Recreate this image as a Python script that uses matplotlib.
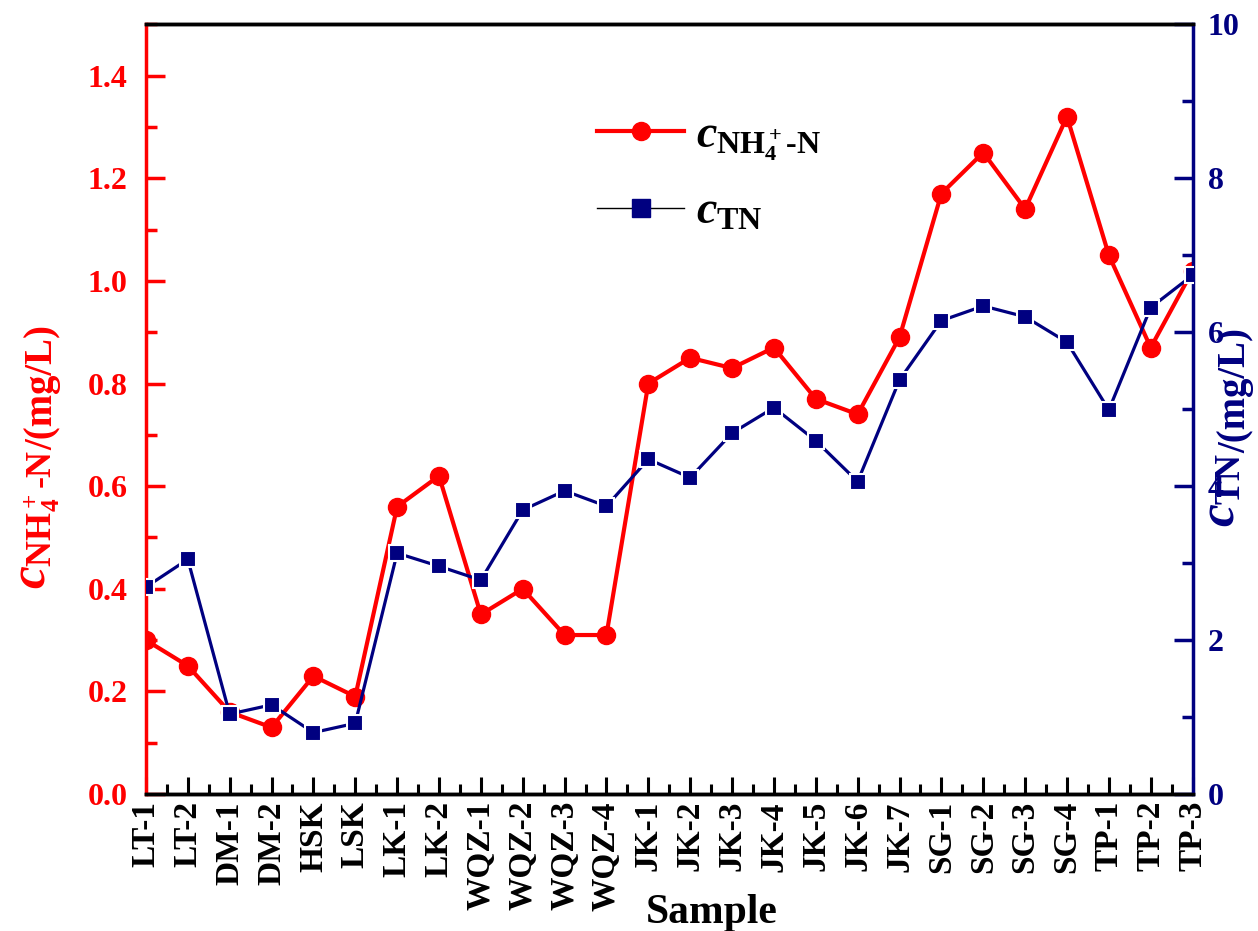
import matplotlib
matplotlib.use("Agg")
import matplotlib.pyplot as plt
from matplotlib.lines import Line2D
from matplotlib.ticker import MultipleLocator, FormatStrFormatter

plt.rcParams['font.family'] = ['Liberation Serif', 'DejaVu Serif']
plt.rcParams['font.weight'] = 'bold'
plt.rcParams['mathtext.fontset'] = 'custom'
plt.rcParams['mathtext.rm'] = 'Liberation Serif:bold'
plt.rcParams['mathtext.bf'] = 'Liberation Serif:bold'
plt.rcParams['mathtext.it'] = 'Liberation Serif:italic'

# sample sites
samples = ['LT-1', 'LT-2', 'DM-1', 'DM-2', 'HSK', 'LSK', 'LK-1', 'LK-2',
           'WQZ-1', 'WQZ-2', 'WQZ-3', 'WQZ-4', 'JK-1', 'JK-2', 'JK-3', 'JK-4',
           'JK-5', 'JK-6', 'JK-7', 'SG-1', 'SG-2', 'SG-3', 'SG-4',
           'TP-1', 'TP-2', 'TP-3']
# ammonium nitrogen (mg/L), left axis
nh4 = [0.30, 0.25, 0.16, 0.13, 0.23, 0.19, 0.56, 0.62,
       0.35, 0.40, 0.31, 0.31, 0.80, 0.85, 0.83, 0.87,
       0.77, 0.74, 0.89, 1.17, 1.25, 1.14, 1.32,
       1.05, 0.87, 1.02]
# total nitrogen (mg/L), right axis
tn = [2.69, 3.05, 1.04, 1.16, 0.80, 0.92, 3.13, 2.96,
      2.78, 3.69, 3.94, 3.74, 4.35, 4.11, 4.69, 5.02,
      4.59, 4.06, 5.38, 6.15, 6.34, 6.20, 5.87,
      4.99, 6.32, 6.74]

red = '#ff0000'
navy = '#000080'
nh4_sym = r'$c_{\mathrm{NH_4^+}\text{-N}}$'
tn_sym = r'$c_{\mathrm{TN}}$'
x = list(range(len(samples)))

fig = plt.figure(figsize=(12.58, 9.31), dpi=100)
ax = fig.add_axes([0.116, 0.147, 0.832, 0.827])
ax2 = ax.twinx()

ax.plot(x, nh4, color=red, lw=3, marker='o', ms=13, zorder=3)
ax2.plot(x, tn, color=navy, lw=2.3, marker='s', ms=12, mec='white', mew=1.5, zorder=3)

ax.set_xlim(0, len(samples) - 1)
ax.set_ylim(0, 1.5)
ax2.set_ylim(0, 10)

ax.set_xticks(x)
ax.set_xticklabels(samples, rotation=90, fontsize=24, fontweight='bold')
ax.xaxis.set_minor_locator(MultipleLocator(0.5))
ax.yaxis.set_major_locator(MultipleLocator(0.2))
ax.yaxis.set_minor_locator(MultipleLocator(0.1))
ax.yaxis.set_major_formatter(FormatStrFormatter('%.1f'))
ax2.yaxis.set_major_locator(MultipleLocator(2))
ax2.yaxis.set_minor_locator(MultipleLocator(1))

ax.tick_params(axis='x', which='major', direction='in', length=12, width=2.2, pad=5)
ax.tick_params(axis='x', which='minor', direction='in', length=7, width=2.2)
ax.tick_params(axis='y', which='major', direction='in', length=14, width=2.5,
               colors=red, labelsize=23, pad=13)
ax.tick_params(axis='y', which='minor', direction='in', length=8, width=2.5, colors=red)
ax2.tick_params(axis='y', which='major', direction='in', length=14, width=2.5,
                colors=navy, labelsize=23, pad=11)
ax2.tick_params(axis='y', which='minor', direction='in', length=8, width=2.5, colors=navy)
for lab in ax.get_yticklabels() + ax2.get_yticklabels():
    lab.set_fontweight('bold')

for a in (ax, ax2):
    for s in a.spines.values():
        s.set_linewidth(2.5)
ax.spines['left'].set_color(red)
ax.spines['right'].set_visible(False)
ax2.spines['left'].set_visible(False)
ax2.spines['right'].set_color(navy)

ax.set_xlabel('Sample', fontsize=30, fontweight='bold')
ax.xaxis.set_label_coords(0.541, -0.13)

# y labels: big symbol part + smaller unit part, rotated
ax.text(-0.0965, 0.447, nh4_sym, transform=ax.transAxes, rotation=90,
        rotation_mode='anchor', ha='right', va='baseline', fontsize=37, color=red)
ax.text(-0.0895, 0.447, '/(mg/L)', transform=ax.transAxes, rotation=90,
        rotation_mode='anchor', ha='left', va='baseline', fontsize=28,
        fontweight='bold', color=red)
ax.text(1.040, 0.443, tn_sym, transform=ax.transAxes, rotation=90,
        rotation_mode='anchor', ha='right', va='baseline', fontsize=37, color=navy)
ax.text(1.0505, 0.443, '/(mg/L)', transform=ax.transAxes, rotation=90,
        rotation_mode='anchor', ha='left', va='baseline', fontsize=28,
        fontweight='bold', color=navy)

handles = [Line2D([], [], color=red, lw=3, marker='o', ms=13),
           Line2D([], [], color='black', lw=1, marker='s', ms=13, mfc=navy, mec=navy)]
fig.legend(handles, [nh4_sym, tn_sym], loc='upper left', bbox_to_anchor=(0.4746, 0.876),
           frameon=False, fontsize=33, handlelength=1.9, labelspacing=0.62,
           handletextpad=0.25, borderpad=0, borderaxespad=0)

fig.savefig('out.png', dpi=100)
